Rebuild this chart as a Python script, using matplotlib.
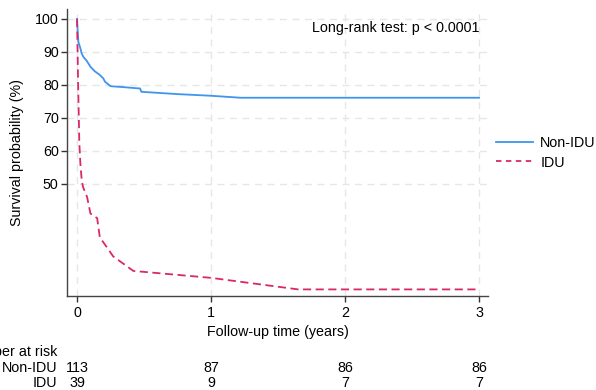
import matplotlib
matplotlib.use("Agg")
import matplotlib.pyplot as plt
from matplotlib.lines import Line2D

plt.rcParams['font.family'] = ['Liberation Sans', 'DejaVu Sans']

# Data
t_non = [0, 0.005, 0.01, 0.022, 0.035, 0.047, 0.072, 0.10, 0.13, 0.17, 0.195, 0.21, 0.25, 0.35, 0.47, 0.48, 0.75, 1.0, 1.22, 3.0]
s_non = [100, 96, 93, 91.5, 89.5, 88.5, 87.3, 85.5, 84.2, 83.0, 82.0, 80.9, 79.6, 79.3, 78.9, 77.9, 77.2, 76.7, 76.1, 76.1]
t_idu = [0, 0.008, 0.017, 0.025, 0.035, 0.045, 0.075, 0.10, 0.15, 0.17, 0.27, 0.42, 1.0, 1.65, 3.0]
s_idu = [100, 80, 62.3, 56, 51, 49, 46, 41, 39.6, 33.8, 28, 23.6, 21.5, 18.0, 18.0]
risk_times = [0, 1, 2, 3]
risk_non = [113, 87, 86, 86]
risk_idu = [39, 9, 7, 7]
group_labels = ["Non-IDU", "IDU"]
y_ticks = [50, 60, 70, 80, 90, 100]
pvalue_text = "Long-rank test: p < 0.0001"

FS = 10.3
W, H = 596, 390
fig = plt.figure(figsize=(W / 100, H / 100), dpi=100)
ax = fig.add_axes([67 / W, 1 - 296 / H, (488 - 67) / W, (296 - 9) / H])

blue = "#3f94ee"
red = "#d9286a"
ax.plot(t_non, s_non, color=blue, lw=1.3, label=group_labels[0])
ax.plot(t_idu, s_idu, color=red, lw=1.3, ls=(0, (4.5, 2.5)), label=group_labels[1])

ax.set_xlim(-0.075, 3.067)
ax.set_ylim(16, 103)
ax.set_xticks(risk_times)
ax.set_yticks(y_ticks)
ax.tick_params(axis='both', labelsize=FS, colors="#333333", length=4.5, width=1, labelcolor="black")
ax.tick_params(axis='y', pad=1.5)
ax.tick_params(axis='x', pad=3)
ax.grid(True, ls=(0, (5, 4)), color="#e6e6e6", lw=1)
ax.set_axisbelow(True)
for sp in ['top', 'right']:
    ax.spines[sp].set_visible(False)
for sp in ['left', 'bottom']:
    ax.spines[sp].set_color("#444444")
    ax.spines[sp].set_linewidth(1)

ax.set_xlabel("Follow-up time (years)", fontsize=FS, labelpad=3)
ax.set_ylabel("Survival probability (%)", fontsize=FS, va='center')
ax.yaxis.set_label_coords(17 / W, 1 - 153 / H, transform=fig.transFigure)

ax.text(3.0, 97.2, pvalue_text, ha='right', va='center', fontsize=FS)

# Legend
handles = [Line2D([], [], color=blue, lw=1.3),
           Line2D([], [], color=red, lw=1.3, ls=(0, (3, 2.5)))]
fig.legend(handles, group_labels, loc='center left', bbox_to_anchor=(493 / W, 1 - 153 / H),
           frameon=False, fontsize=FS, handlelength=2.6, handletextpad=0.5, labelspacing=0.35,
           borderaxespad=0, borderpad=0.2)

# Number at risk table
fig.text(57 / W, 1 - 352 / H, "Number at risk", ha='right', va='center', fontsize=FS)
fig.text(57 / W, 1 - 368 / H, group_labels[0], ha='right', va='center', fontsize=FS)
fig.text(57 / W, 1 - 383 / H, group_labels[1], ha='right', va='center', fontsize=FS)
for t, a, b in zip(risk_times, risk_non, risk_idu):
    xf = fig.transFigure.inverted().transform(ax.transData.transform((t, 50)))[0]
    fig.text(xf, 1 - 368 / H, str(a), ha='center', va='center', fontsize=FS)
    fig.text(xf, 1 - 383 / H, str(b), ha='center', va='center', fontsize=FS)

fig.savefig("out.png", dpi=100)
